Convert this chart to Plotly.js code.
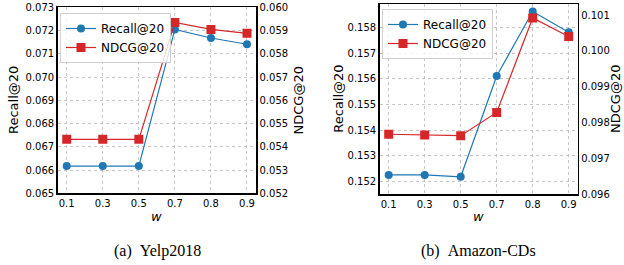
<!DOCTYPE html>
<html><head><meta charset="utf-8">
<script src="https://cdn.plot.ly/plotly-3.0.1.min.js"></script>
<style>html,body{margin:0;padding:0;background:#fff;}#chart{width:624px;height:265px;}</style>
</head><body><div id="chart"></div>
<script>
const wLabels = ['0.1','0.3','0.5','0.7','0.8','0.9'];
const recallYelp = [0.06617, 0.06617, 0.06617, 0.07205, 0.07168, 0.07141];
const ndcgYelp   = [0.05432, 0.05432, 0.05432, 0.05935, 0.05905, 0.05888];
const recallCDs  = [0.15226, 0.15226, 0.15219, 0.15611, 0.15862, 0.15781];
const ndcgCDs    = [0.09767, 0.09765, 0.09763, 0.09828, 0.10092, 0.10040];
const captions = ['(a)\u00a0\u00a0Yelp2018', '(b)\u00a0\u00a0Amazon-CDs'];
const yTitles = ['Recall@20', 'NDCG@20'];
const xTitle = '<i>w</i>';

const BLUE = '#1f77b4', RED = '#d62728';
const W = 624, H = 265;
const px = v => v / W, py = v => 1 - v / H;

const traces = [
  {x: wLabels, y: recallYelp, xaxis: 'x', yaxis: 'y', name: 'Recall@20', mode: 'lines+markers',
   line: {color: BLUE, width: 1.2}, marker: {symbol: 'circle', size: 8, color: BLUE}, legend: 'legend'},
  {x: wLabels, y: ndcgYelp, xaxis: 'x', yaxis: 'y2', name: 'NDCG@20', mode: 'lines+markers',
   line: {color: RED, width: 1.2}, marker: {symbol: 'square', size: 9, color: RED}, legend: 'legend'},
  {x: wLabels, y: recallCDs, xaxis: 'x2', yaxis: 'y3', name: 'Recall@20', mode: 'lines+markers',
   line: {color: BLUE, width: 1.2}, marker: {symbol: 'circle', size: 8, color: BLUE}, legend: 'legend2'},
  {x: wLabels, y: ndcgCDs, xaxis: 'x2', yaxis: 'y4', name: 'NDCG@20', mode: 'lines+markers',
   line: {color: RED, width: 1.2}, marker: {symbol: 'square', size: 9, color: RED}, legend: 'legend2'}
];

const tickFont = {family: 'DejaVu Sans', size: 10, color: '#000'};
const titleFont = {family: 'DejaVu Sans', size: 13, color: '#000'};
const gridStyle = {showgrid: true, gridcolor: '#b8b8b8', griddash: 'dot', gridwidth: 0.8};

function xax(anchor, domain) {
  return Object.assign({type: 'category', domain: domain, anchor: anchor, range: [-0.25, 5.25],
    showline: true, linecolor: '#000', linewidth: 1.5, mirror: true, ticks: '', zeroline: false,
    tickfont: tickFont}, gridStyle);
}
function yax(anchor, domain, range, dtick, side, overlay) {
  const a = {domain: domain, anchor: anchor, range: range, dtick: dtick, tick0: 0, tickformat: '.3f',
    showline: true, linecolor: '#000', linewidth: 1.5, ticks: '', zeroline: false, side: side,
    tickfont: tickFont};
  if (overlay) { a.overlaying = overlay; a.showgrid = false; }
  else { Object.assign(a, gridStyle); }
  return a;
}

const d1x = [px(57.7), px(256)], d1y = [py(193.3), py(7.3)];
const d2x = [px(379.7), px(577.7)], d2y = [py(194), py(4)];

function label(text, xc, yc, angle, font) {
  return {text: text, x: px(xc), y: py(yc), xref: 'paper', yref: 'paper', showarrow: false,
    textangle: angle, xanchor: 'center', yanchor: 'middle', font: font};
}
const capFont = {family: 'Liberation Serif', size: 16, color: '#000'};
const legendStyle = {xanchor: 'left', yanchor: 'top', bgcolor: 'rgba(255,255,255,0.8)',
  bordercolor: '#d0d0d0', borderwidth: 1, font: {family: 'DejaVu Sans', size: 12, color: '#000'},
  tracegroupgap: 0, itemwidth: 30};

const layout = {
  width: W, height: H, margin: {l: 0, r: 0, t: 0, b: 0},
  paper_bgcolor: '#fff', plot_bgcolor: '#fff', showlegend: true,
  xaxis: xax('y', d1x),
  yaxis: yax('x', d1y, [0.065, 0.073], 0.001, 'left'),
  yaxis2: yax('x', d1y, [0.052, 0.060], 0.001, 'right', 'y'),
  xaxis2: xax('y3', d2x),
  yaxis3: yax('x2', d2y, [0.15152, 0.15891], 0.001, 'left'),
  yaxis4: yax('x2', d2y, [0.096, 0.10131], 0.001, 'right', 'y3'),
  legend: Object.assign({x: px(60), y: py(13)}, legendStyle),
  legend2: Object.assign({x: px(382), y: py(9)}, legendStyle),
  annotations: [
    label(yTitles[0], 13.5, 100.5, -90, titleFont), label(yTitles[1], 298, 100.5, -90, titleFont),
    label(yTitles[0], 338.7, 99, -90, titleFont), label(yTitles[1], 616, 99, -90, titleFont),
    label(xTitle, 156, 216, 0, titleFont), label(xTitle, 478.7, 216, 0, titleFont),
    label(captions[0], 157, 251, 0, capFont), label(captions[1], 478.7, 251, 0, capFont)
  ]
};

Plotly.newPlot('chart', traces, layout, {staticPlot: true, displayModeBar: false});
</script></body></html>
